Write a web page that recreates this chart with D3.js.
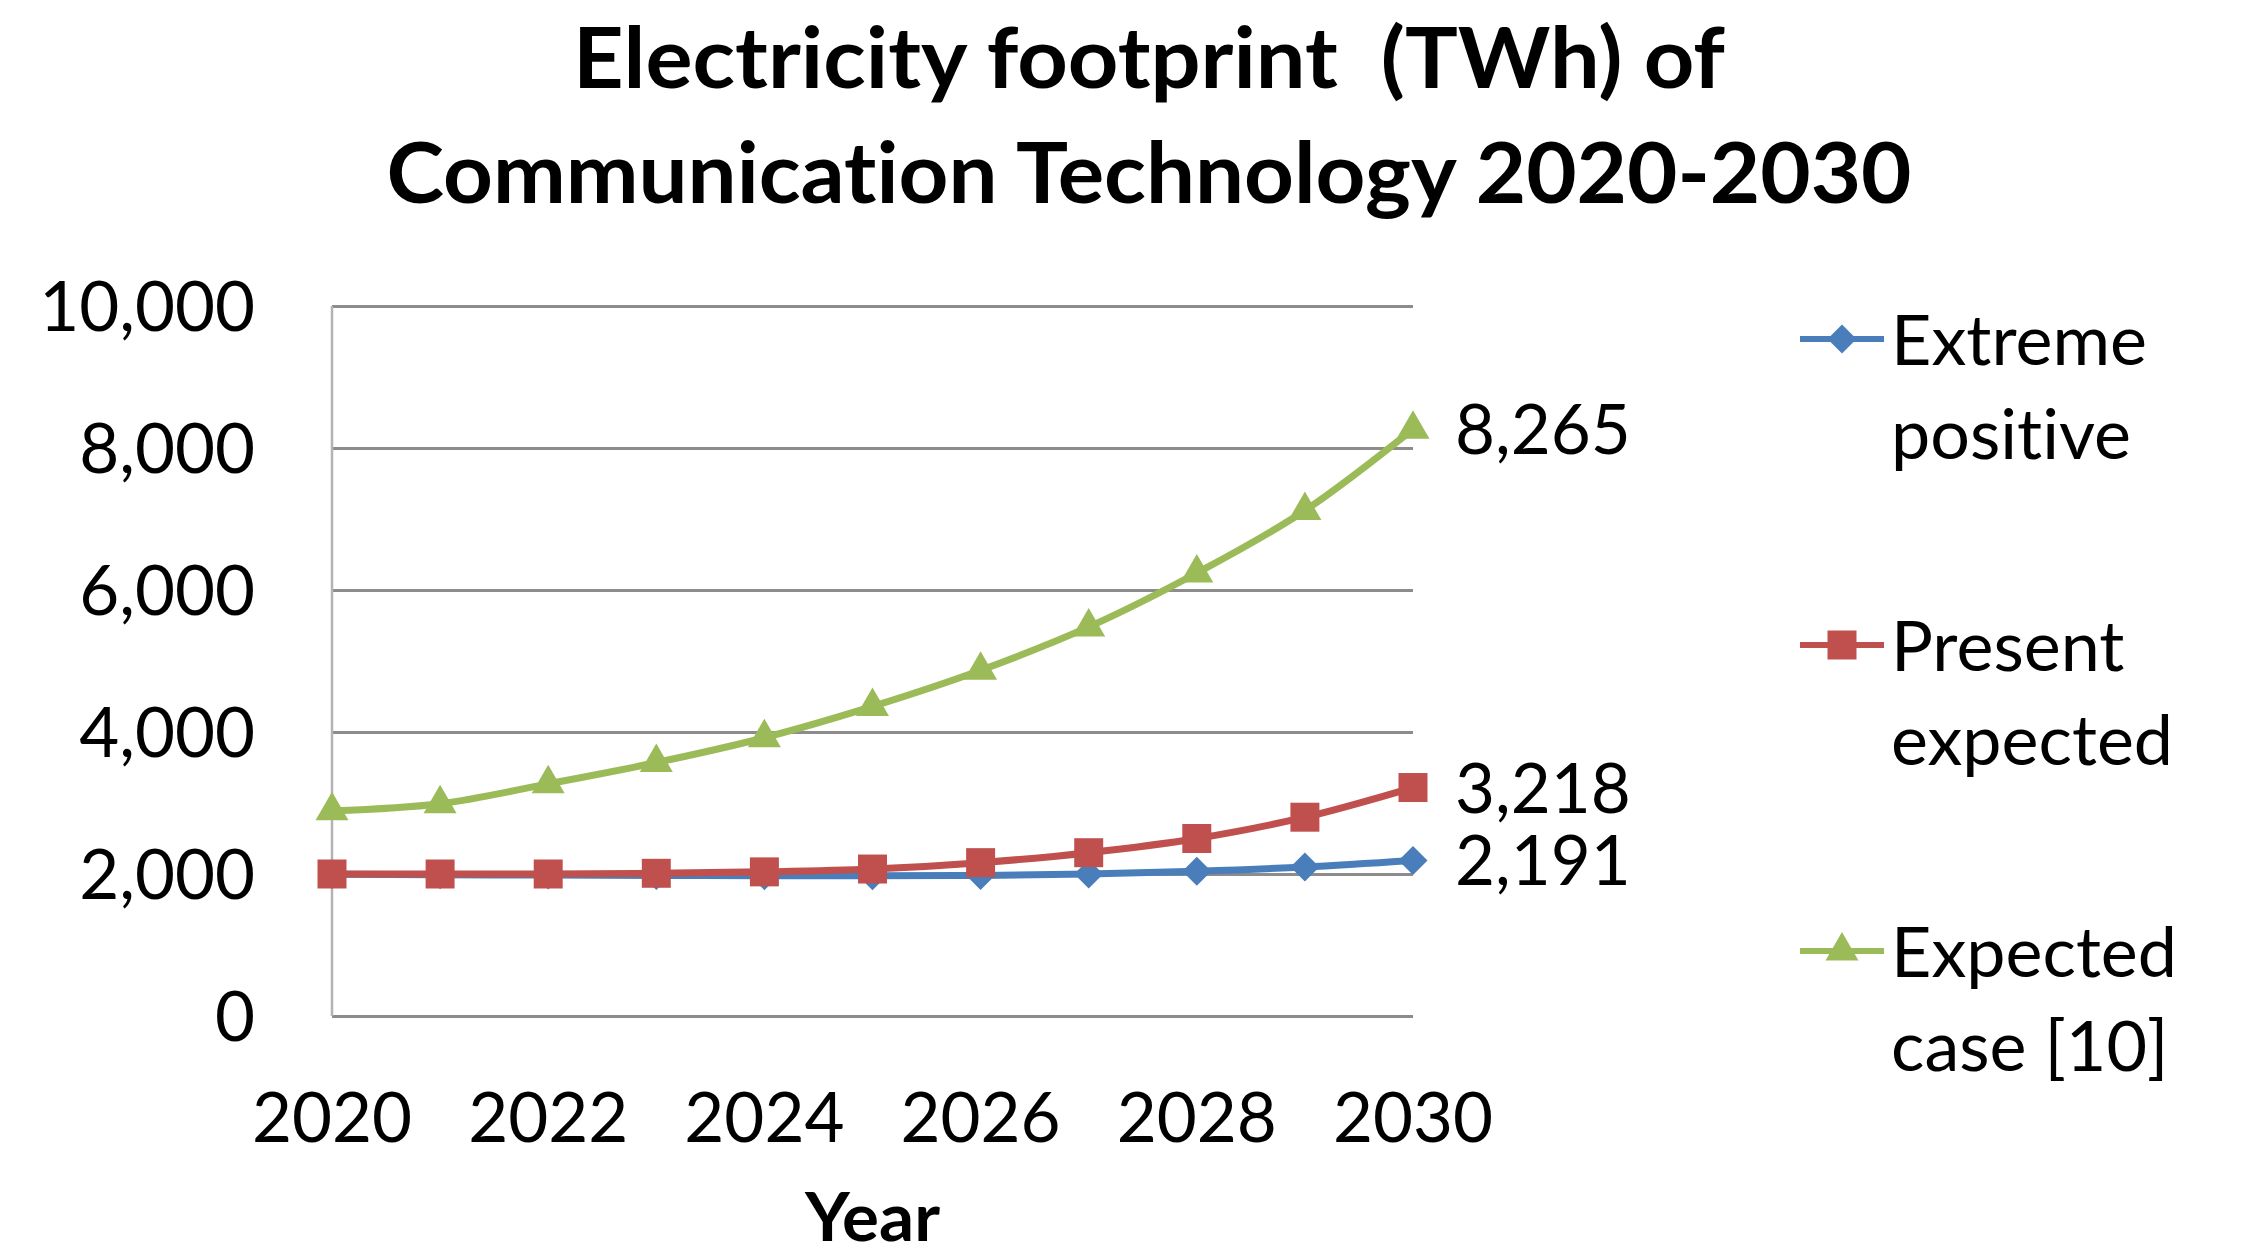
<!DOCTYPE html>
<html>
<head>
<meta charset="utf-8">
<script src="https://cdn.jsdelivr.net/npm/d3@7"></script>
<style>
  html, body { margin: 0; padding: 0; background: #fff; }
  svg { display: block; }
  text { font-family: Lato, "Open Sans", sans-serif; fill: #000; font-variant-ligatures: none; font-feature-settings: "liga" 0, "clig" 0; }
</style>
</head>
<body>
<svg id="chart" width="2243" height="1257"></svg>
<script>
// Electricity footprint of communication technology, three scenarios (TWh)
const years = [2020, 2021, 2022, 2023, 2024, 2025, 2026, 2027, 2028, 2029, 2030];
const extremePositive = [1995, 1990, 1985, 1980, 1975, 1975, 1980, 2000, 2040, 2100, 2191];
const presentExpected = [2000, 2000, 2000, 2010, 2030, 2070, 2160, 2300, 2500, 2800, 3218];
const expectedCase = [2890, 2990, 3270, 3570, 3920, 4360, 4870, 5480, 6240, 7120, 8265];

const seriesNames = [["Extreme", "positive"], ["Present", "expected"], ["Expected", "case [10]"]];
const yTickValues = [0, 2000, 4000, 6000, 8000, 10000];
const xTickValues = [2020, 2022, 2024, 2026, 2028, 2030];
const titleLines = ["Electricity footprint  (TWh) of", "Communication Technology 2020-2030"];
const xAxisTitle = "Year";

const series = [
  { names: seriesNames[0], values: extremePositive, color: "#4a7ebb", marker: "diamond" },
  { names: seriesNames[1], values: presentExpected, color: "#c0504d", marker: "square" },
  { names: seriesNames[2], values: expectedCase, color: "#9bbb59", marker: "triangle" }
];

const svg = d3.select("#chart");
const plot = { left: 332, right: 1413, top: 306, bottom: 1016 };

const x = d3.scaleLinear().domain([2020, 2030]).range([plot.left, plot.right]);
const y = d3.scaleLinear().domain([0, 10000]).range([plot.bottom, plot.top]);
const fmt = d3.format(",");

// Title
const titleG = svg.append("g");
titleLines.forEach((line, i) => {
  titleG.append("text")
    .attr("x", 1149)
    .attr("y", i === 0 ? 88 : 203)
    .attr("text-anchor", "middle")
    .attr("font-size", 84)
    .attr("font-weight", 700)
    .attr("textLength", i === 0 ? 1152 : 1525)
    .attr("lengthAdjust", "spacingAndGlyphs")
    .style("white-space", "pre")
    .text(line);
});

// Horizontal gridlines
const yAxis = d3.axisLeft(y).tickValues(yTickValues).tickSize(-(plot.right - plot.left)).tickFormat("");
const gy = svg.append("g").attr("transform", `translate(${plot.left},0)`).call(yAxis);
gy.select(".domain").remove();
gy.selectAll(".tick line").attr("stroke", "#8c8c8c").attr("stroke-width", 3);

// Vertical axis line
svg.append("line")
  .attr("x1", plot.left).attr("x2", plot.left)
  .attr("y1", plot.top).attr("y2", plot.bottom)
  .attr("stroke", "#b3b3b3").attr("stroke-width", 2.5);

// Y tick labels
svg.append("g").selectAll("text")
  .data(yTickValues)
  .join("text")
  .attr("x", 255)
  .attr("y", d => y(d) + 25)
  .attr("text-anchor", "end")
  .attr("font-size", 69)
  .text(d => fmt(d));

// X tick labels
svg.append("g").selectAll("text")
  .data(xTickValues)
  .join("text")
  .attr("x", d => x(d))
  .attr("y", 1142)
  .attr("text-anchor", "middle")
  .attr("font-size", 69)
  .text(d => d);

// X axis title
svg.append("text")
  .attr("x", (plot.left + plot.right) / 2)
  .attr("y", 1241)
  .attr("text-anchor", "middle")
  .attr("font-size", 66)
  .attr("font-weight", 700)
  .attr("textLength", 135)
  .attr("lengthAdjust", "spacingAndGlyphs")
  .text(xAxisTitle);

function markerPath(kind) {
  if (kind === "square") return d3.symbol(d3.symbolSquare, 840)();
  if (kind === "triangle") return d3.symbol(d3.symbolTriangle, 470)();
  return d3.symbol(d3.symbolSquare, 420)();
}
function markerTransform(kind, px, py) {
  return kind === "diamond" ? `translate(${px},${py}) rotate(45)` : `translate(${px},${py})`;
}

const line = d3.line()
  .x((d, i) => x(years[i]))
  .y(d => y(d))
  .curve(d3.curveMonotoneX);

const linesG = svg.append("g");
series.forEach(s => {
  const g = linesG.append("g");
  g.append("path")
    .attr("d", line(s.values))
    .attr("fill", "none")
    .attr("stroke", s.color)
    .attr("stroke-width", 7)
    .attr("stroke-linejoin", "round");
  g.selectAll("path.mk")
    .data(s.values)
    .join("path")
    .attr("class", "mk")
    .attr("d", markerPath(s.marker))
    .attr("transform", (d, i) => markerTransform(s.marker, x(years[i]), y(d)))
    .attr("fill", s.color);
  // End-of-line value label
  const last = s.values[s.values.length - 1];
  svg.append("text")
    .attr("x", x(years[years.length - 1]) + 42)
    .attr("y", y(last) + 25)
    .attr("font-size", 69)
    .text(fmt(last));
});

// Legend
const legend = svg.append("g");
series.forEach((s, i) => {
  const ly = 339 + i * 306;
  const g = legend.append("g");
  g.append("line")
    .attr("x1", 1800).attr("x2", 1884)
    .attr("y1", ly).attr("y2", ly)
    .attr("stroke", s.color).attr("stroke-width", 6);
  g.append("path")
    .attr("d", markerPath(s.marker))
    .attr("transform", markerTransform(s.marker, 1842, ly))
    .attr("fill", s.color);
  s.names.forEach((t, j) => {
    g.append("text")
      .attr("x", 1891)
      .attr("y", ly + 26 + j * 94)
      .attr("font-size", 70)
      .text(t);
  });
});
</script>
</body>
</html>
